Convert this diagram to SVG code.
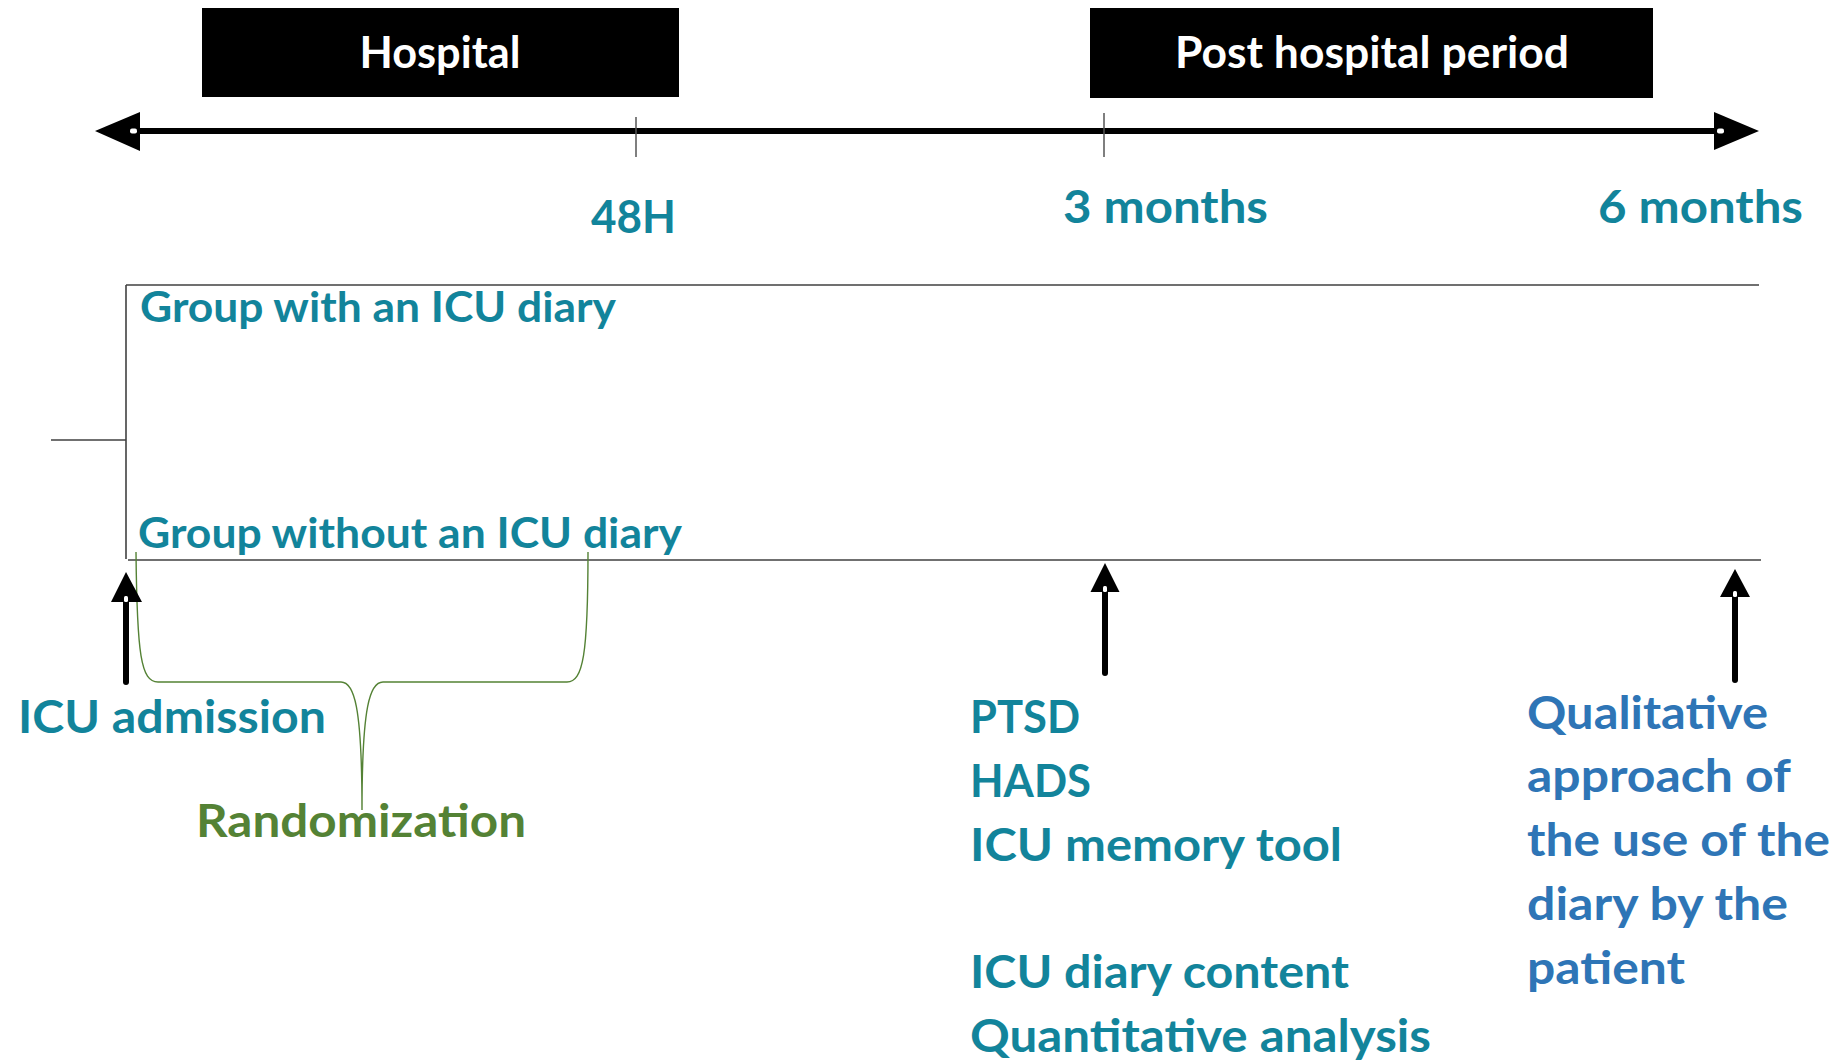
<svg xmlns="http://www.w3.org/2000/svg" width="1840" height="1063" viewBox="0 0 1840 1063">
  <style>
    text { font-family: Lato, "Open Sans", "Liberation Sans", sans-serif; font-weight: 700; }
    .band { fill: #000000; }
    .band-label { fill: #ffffff; font-size: 44px; }
    .teal { fill: #12849B; }
    .blue { fill: #2E75B6; }
    .green { fill: #548235; }
    .t45 { font-size: 46px; }
    .t42 { font-size: 42.5px; }
    .axis { stroke: #000000; stroke-width: 6; fill: none; }
    .tick { stroke: #555555; stroke-width: 1.5; fill: none; }
    .frame { stroke: #404040; stroke-width: 1.6; fill: none; }
    .brace { stroke: #548235; stroke-width: 1.4; fill: none; }
    .shaft { stroke: #000000; stroke-width: 6; stroke-linecap: round; fill: none; }
    .head { fill: #000000; }
    .dot { fill: #ffffff; }
  </style>

  <!-- period bands -->
  <g id="hospital">
    <rect class="band" x="202" y="8" width="477" height="89"/>
    <text class="band-label" x="440" y="68" text-anchor="middle" textLength="161" lengthAdjust="spacingAndGlyphs">Hospital</text>
  </g>
  <g id="post-hospital">
    <rect class="band" x="1090" y="8" width="563" height="90"/>
    <text class="band-label" x="1372" y="68" text-anchor="middle" textLength="394" lengthAdjust="spacingAndGlyphs">Post hospital period</text>
  </g>

  <!-- time marks -->
  <g id="mark-48h">
    <text class="teal t45" x="591" y="233" textLength="85" lengthAdjust="spacingAndGlyphs">48H</text>
  </g>
  <g id="mark-3m">
    <text class="teal t45" x="1063" y="223" textLength="205" lengthAdjust="spacingAndGlyphs">3 months</text>
  </g>
  <g id="mark-6m">
    <text class="teal t45" x="1598" y="223" textLength="205" lengthAdjust="spacingAndGlyphs">6 months</text>
  </g>

  <!-- study groups -->
  <g id="group-diary">
    <text class="teal t42" x="140" y="322" textLength="476" lengthAdjust="spacingAndGlyphs">Group with an ICU diary</text>
  </g>
  <g id="group-no-diary">
    <text class="teal t42" x="138" y="548" textLength="544" lengthAdjust="spacingAndGlyphs">Group without an ICU diary</text>
  </g>

  <!-- events -->
  <g id="icu-admission">
    <text class="teal t45" x="18" y="733" textLength="308" lengthAdjust="spacingAndGlyphs">ICU admission</text>
  </g>
  <g id="randomization">
    <text class="green t45" x="196" y="837" textLength="330" lengthAdjust="spacingAndGlyphs">Randomization</text>
  </g>
  <g id="outcomes-3m">
    <text class="teal t45" x="970" y="733" textLength="110" lengthAdjust="spacingAndGlyphs">PTSD</text>
    <text class="teal t45" x="970" y="797" textLength="121" lengthAdjust="spacingAndGlyphs">HADS</text>
    <text class="teal t45" x="970" y="861" textLength="372" lengthAdjust="spacingAndGlyphs">ICU memory tool</text>
    <text class="teal t45" x="970" y="988" textLength="379" lengthAdjust="spacingAndGlyphs">ICU diary content</text>
    <text class="teal t45" x="970" y="1052" textLength="461" lengthAdjust="spacingAndGlyphs">Quantitative analysis</text>
  </g>
  <g id="outcomes-6m">
    <text class="blue t45" x="1527" y="729" textLength="241" lengthAdjust="spacingAndGlyphs">Qualitative</text>
    <text class="blue t45" x="1527" y="792" textLength="264" lengthAdjust="spacingAndGlyphs">approach of</text>
    <text class="blue t45" x="1527" y="856" textLength="303" lengthAdjust="spacingAndGlyphs">the use of the</text>
    <text class="blue t45" x="1527" y="920" textLength="261" lengthAdjust="spacingAndGlyphs">diary by the</text>
    <text class="blue t45" x="1527" y="984" textLength="158" lengthAdjust="spacingAndGlyphs">patient</text>
  </g>

  <g id="connectors">
    <!-- double-headed time axis -->
    <line class="axis" x1="136" y1="131" x2="1718" y2="131"/>
    <path class="head" d="M95,131 L140,112 L140,151 Z"/>
    <rect class="dot" x="130" y="128.5" width="7" height="5" rx="2"/>
    <path class="head" d="M1759,131 L1714,112 L1714,150 Z"/>
    <rect class="dot" x="1717" y="128.5" width="7" height="5" rx="2"/>
    <line class="tick" x1="636" y1="117" x2="636" y2="157"/>
    <line class="tick" x1="1104" y1="113" x2="1104" y2="157"/>

    <!-- group split -->
    <line class="frame" x1="51" y1="440" x2="126" y2="440"/>
    <line class="frame" x1="126" y1="285" x2="126" y2="559"/>
    <line class="frame" x1="126" y1="285" x2="1759" y2="285"/>
    <line class="frame" x1="128" y1="560" x2="1761" y2="560"/>

    <!-- randomization brace -->
    <path class="brace" d="M136,552 C137,655 141,682 158,682 L341,682 C354,682 362,705 362,810 C362,705 370,682 383,682 L567,682 C583,682 588,655 588,552"/>

    <!-- assessment arrows -->
    <line class="shaft" x1="126" y1="682" x2="126" y2="600"/>
    <path class="head" d="M126,572 L111,602 L142,602 Z"/>
    <rect class="dot" x="124" y="596" width="4" height="6" rx="1.5"/>

    <line class="shaft" x1="1105" y1="673" x2="1105" y2="590"/>
    <path class="head" d="M1105,563 L1090.5,592 L1119.5,592 Z"/>
    <rect class="dot" x="1103" y="586" width="4" height="6" rx="1.5"/>

    <line class="shaft" x1="1735" y1="680" x2="1735" y2="595"/>
    <path class="head" d="M1735,569 L1720,597 L1750,597 Z"/>
    <rect class="dot" x="1733" y="591" width="4" height="6" rx="1.5"/>
  </g>
</svg>
